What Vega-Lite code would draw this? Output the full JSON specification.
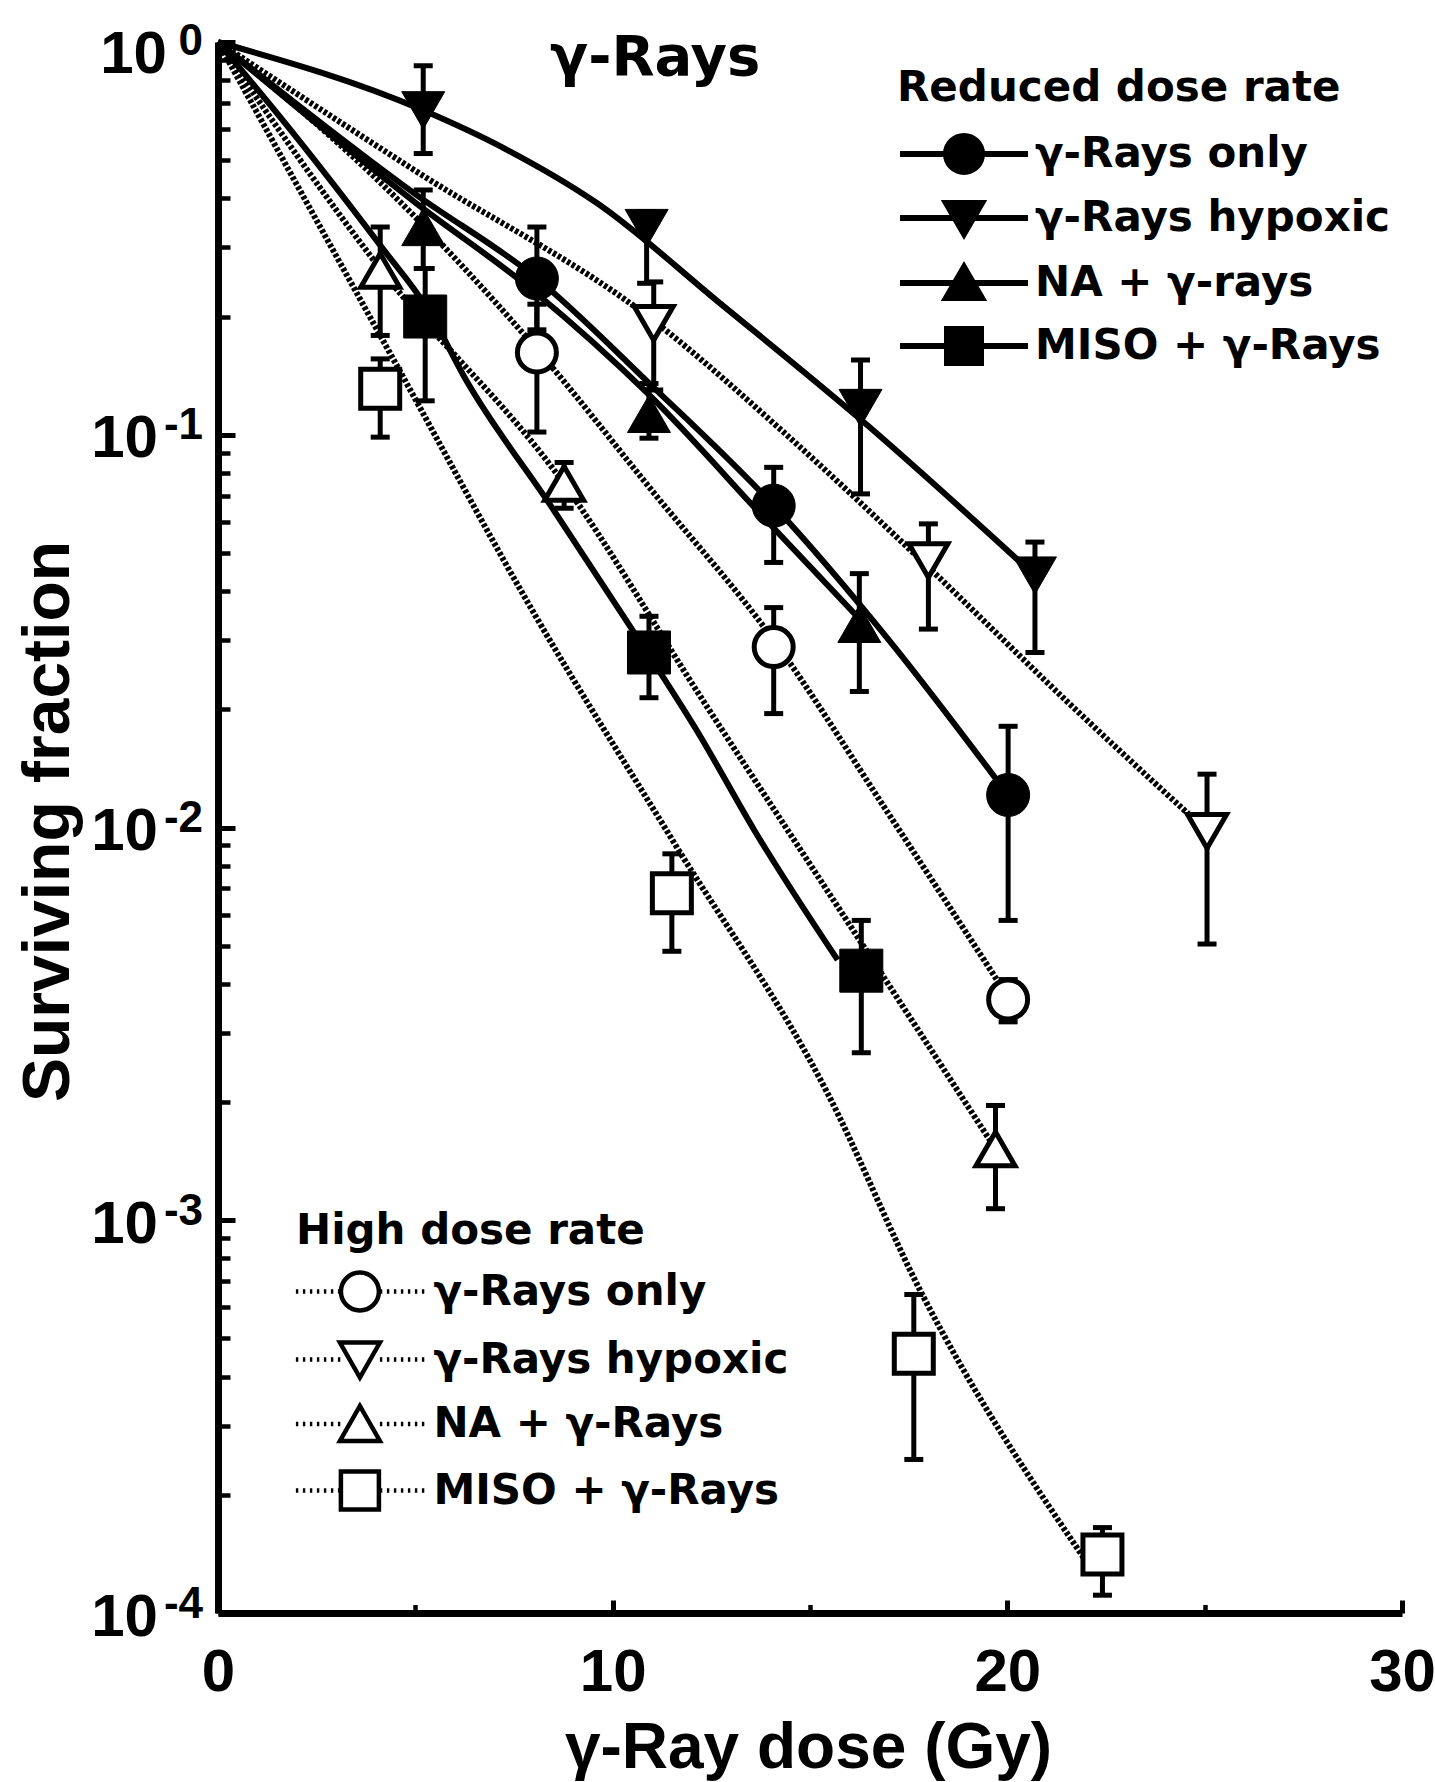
{
  "$schema": "https://vega.github.io/schema/vega-lite/v6.json",
  "width": 1184,
  "height": 1571,
  "autosize": "none",
  "padding": {"left": 218, "top": 42, "right": 33, "bottom": 169},
  "background": "white",
  "config": {
    "view": {"stroke": null},
    "axis": {"grid": false, "domainColor": "black", "tickColor": "black", "labelColor": "black", "titleColor": "black"},
    "legend": {"orient": "none", "padding": 0, "titleFont": "DejaVu Sans", "titleFontSize": 42, "titleFontWeight": "bold", "titleColor": "black", "titleLimit": 1000, "labelFont": "DejaVu Sans", "labelFontSize": 42, "labelFontWeight": "bold", "labelColor": "black", "labelLimit": 1000, "symbolSize": 1600}
  },
  "title": {
    "text": "γ-Rays", "anchor": "start", "frame": "group", "orient": "top", "offset": 0,
    "dx": 332, "dy": 112, "baseline": "alphabetic",
    "font": "DejaVu Sans", "fontSize": 56, "fontWeight": "bold", "color": "black"
  },
  "datasets": {
    "curves": [
      {"rate": "Reduced", "treatment": "γ-Rays only", "dose": 0, "sf": 1},
      {"rate": "Reduced", "treatment": "γ-Rays only", "dose": 5, "sf": 0.41},
      {"rate": "Reduced", "treatment": "γ-Rays only", "dose": 8.08, "sf": 0.25},
      {"rate": "Reduced", "treatment": "γ-Rays only", "dose": 10.9, "sf": 0.136},
      {"rate": "Reduced", "treatment": "γ-Rays only", "dose": 14.08, "sf": 0.066},
      {"rate": "Reduced", "treatment": "γ-Rays only", "dose": 17, "sf": 0.03},
      {"rate": "Reduced", "treatment": "γ-Rays only", "dose": 20.02, "sf": 0.0121},
      {"rate": "Reduced", "treatment": "γ-Rays hypoxic", "dose": 0, "sf": 1},
      {"rate": "Reduced", "treatment": "γ-Rays hypoxic", "dose": 5.2, "sf": 0.67},
      {"rate": "Reduced", "treatment": "γ-Rays hypoxic", "dose": 7.3, "sf": 0.533},
      {"rate": "Reduced", "treatment": "γ-Rays hypoxic", "dose": 9.6, "sf": 0.389},
      {"rate": "Reduced", "treatment": "γ-Rays hypoxic", "dose": 12.7, "sf": 0.217},
      {"rate": "Reduced", "treatment": "γ-Rays hypoxic", "dose": 16.3, "sf": 0.109},
      {"rate": "Reduced", "treatment": "γ-Rays hypoxic", "dose": 20.7, "sf": 0.0438},
      {"rate": "Reduced", "treatment": "NA + γ-Rays", "dose": 0, "sf": 1},
      {"rate": "Reduced", "treatment": "NA + γ-Rays", "dose": 5, "sf": 0.39},
      {"rate": "Reduced", "treatment": "NA + γ-Rays", "dose": 8, "sf": 0.232},
      {"rate": "Reduced", "treatment": "NA + γ-Rays", "dose": 10.9, "sf": 0.127},
      {"rate": "Reduced", "treatment": "NA + γ-Rays", "dose": 14, "sf": 0.059},
      {"rate": "Reduced", "treatment": "NA + γ-Rays", "dose": 16.25, "sf": 0.034},
      {"rate": "Reduced", "treatment": "MISO + γ-Rays", "dose": 0, "sf": 1},
      {"rate": "Reduced", "treatment": "MISO + γ-Rays", "dose": 2, "sf": 0.57},
      {"rate": "Reduced", "treatment": "MISO + γ-Rays", "dose": 4.15, "sf": 0.3},
      {"rate": "Reduced", "treatment": "MISO + γ-Rays", "dose": 5.3, "sf": 0.21},
      {"rate": "Reduced", "treatment": "MISO + γ-Rays", "dose": 6.3, "sf": 0.137},
      {"rate": "Reduced", "treatment": "MISO + γ-Rays", "dose": 8.43, "sf": 0.066},
      {"rate": "Reduced", "treatment": "MISO + γ-Rays", "dose": 10.4, "sf": 0.033},
      {"rate": "Reduced", "treatment": "MISO + γ-Rays", "dose": 12.2, "sf": 0.0172},
      {"rate": "Reduced", "treatment": "MISO + γ-Rays", "dose": 13.6, "sf": 0.0098},
      {"rate": "Reduced", "treatment": "MISO + γ-Rays", "dose": 15.7, "sf": 0.0046},
      {"rate": "High", "treatment": "γ-Rays only", "dose": 0, "sf": 1},
      {"rate": "High", "treatment": "γ-Rays only", "dose": 4, "sf": 0.45},
      {"rate": "High", "treatment": "γ-Rays only", "dose": 8.08, "sf": 0.165},
      {"rate": "High", "treatment": "γ-Rays only", "dose": 11, "sf": 0.072},
      {"rate": "High", "treatment": "γ-Rays only", "dose": 14.08, "sf": 0.03},
      {"rate": "High", "treatment": "γ-Rays only", "dose": 17, "sf": 0.0108},
      {"rate": "High", "treatment": "γ-Rays only", "dose": 20.02, "sf": 0.0037},
      {"rate": "High", "treatment": "γ-Rays hypoxic", "dose": 0, "sf": 1},
      {"rate": "High", "treatment": "γ-Rays hypoxic", "dose": 5, "sf": 0.47},
      {"rate": "High", "treatment": "γ-Rays hypoxic", "dose": 11.04, "sf": 0.195},
      {"rate": "High", "treatment": "γ-Rays hypoxic", "dose": 14.5, "sf": 0.098},
      {"rate": "High", "treatment": "γ-Rays hypoxic", "dose": 18, "sf": 0.046},
      {"rate": "High", "treatment": "γ-Rays hypoxic", "dose": 21.5, "sf": 0.021},
      {"rate": "High", "treatment": "γ-Rays hypoxic", "dose": 25.06, "sf": 0.0098},
      {"rate": "High", "treatment": "NA + γ-Rays", "dose": 0, "sf": 1},
      {"rate": "High", "treatment": "NA + γ-Rays", "dose": 4.11, "sf": 0.265},
      {"rate": "High", "treatment": "NA + γ-Rays", "dose": 8.77, "sf": 0.075},
      {"rate": "High", "treatment": "NA + γ-Rays", "dose": 12.23, "sf": 0.0215},
      {"rate": "High", "treatment": "NA + γ-Rays", "dose": 16.03, "sf": 0.0056},
      {"rate": "High", "treatment": "NA + γ-Rays", "dose": 19.7, "sf": 0.00152},
      {"rate": "High", "treatment": "MISO + γ-Rays", "dose": 0, "sf": 1},
      {"rate": "High", "treatment": "MISO + γ-Rays", "dose": 4.5, "sf": 0.152},
      {"rate": "High", "treatment": "MISO + γ-Rays", "dose": 8, "sf": 0.0352},
      {"rate": "High", "treatment": "MISO + γ-Rays", "dose": 11.54, "sf": 0.0092},
      {"rate": "High", "treatment": "MISO + γ-Rays", "dose": 15.45, "sf": 0.0021},
      {"rate": "High", "treatment": "MISO + γ-Rays", "dose": 17.8, "sf": 0.00066},
      {"rate": "High", "treatment": "MISO + γ-Rays", "dose": 22.05, "sf": 0.000133}
    ],
    "points": [
      {"rate": "Reduced", "treatment": "γ-Rays only", "dose": 8.08, "sf": 0.25, "lo": 0.185, "hi": 0.338},
      {"rate": "Reduced", "treatment": "γ-Rays only", "dose": 14.08, "sf": 0.066, "lo": 0.0473, "hi": 0.0826},
      {"rate": "Reduced", "treatment": "γ-Rays only", "dose": 20.02, "sf": 0.0121, "lo": 0.0058, "hi": 0.0181},
      {"rate": "Reduced", "treatment": "γ-Rays hypoxic", "dose": 5.2, "sf": 0.67, "lo": 0.52, "hi": 0.87},
      {"rate": "Reduced", "treatment": "γ-Rays hypoxic", "dose": 10.86, "sf": 0.336, "lo": 0.243, "hi": 0.37},
      {"rate": "Reduced", "treatment": "γ-Rays hypoxic", "dose": 16.28, "sf": 0.117, "lo": 0.0707, "hi": 0.155},
      {"rate": "Reduced", "treatment": "γ-Rays hypoxic", "dose": 20.7, "sf": 0.0438, "lo": 0.0279, "hi": 0.0533},
      {"rate": "Reduced", "treatment": "NA + γ-Rays", "dose": 5.2, "sf": 0.338, "lo": 0.265, "hi": 0.42},
      {"rate": "Reduced", "treatment": "NA + γ-Rays", "dose": 10.92, "sf": 0.113, "lo": 0.098, "hi": 0.135},
      {"rate": "Reduced", "treatment": "NA + γ-Rays", "dose": 16.25, "sf": 0.033, "lo": 0.0222, "hi": 0.0443},
      {"rate": "Reduced", "treatment": "MISO + γ-Rays", "dose": 5.25, "sf": 0.2, "lo": 0.122, "hi": 0.265},
      {"rate": "Reduced", "treatment": "MISO + γ-Rays", "dose": 10.92, "sf": 0.0279, "lo": 0.0214, "hi": 0.0345},
      {"rate": "Reduced", "treatment": "MISO + γ-Rays", "dose": 16.3, "sf": 0.00432, "lo": 0.00267, "hi": 0.0058},
      {"rate": "High", "treatment": "γ-Rays only", "dose": 8.08, "sf": 0.162, "lo": 0.1016, "hi": 0.215},
      {"rate": "High", "treatment": "γ-Rays only", "dose": 14.08, "sf": 0.0288, "lo": 0.0195, "hi": 0.0363},
      {"rate": "High", "treatment": "γ-Rays only", "dose": 20.02, "sf": 0.00365, "lo": 0.0032, "hi": 0.0041},
      {"rate": "High", "treatment": "γ-Rays hypoxic", "dose": 11.04, "sf": 0.192, "lo": 0.13, "hi": 0.245},
      {"rate": "High", "treatment": "γ-Rays hypoxic", "dose": 18.0, "sf": 0.0478, "lo": 0.032, "hi": 0.0593},
      {"rate": "High", "treatment": "γ-Rays hypoxic", "dose": 25.06, "sf": 0.00977, "lo": 0.00505, "hi": 0.01367},
      {"rate": "High", "treatment": "NA + γ-Rays", "dose": 4.11, "sf": 0.262, "lo": 0.179, "hi": 0.338},
      {"rate": "High", "treatment": "NA + γ-Rays", "dose": 8.77, "sf": 0.0752, "lo": 0.065, "hi": 0.085},
      {"rate": "High", "treatment": "NA + γ-Rays", "dose": 19.7, "sf": 0.00152, "lo": 0.00107, "hi": 0.00196},
      {"rate": "High", "treatment": "MISO + γ-Rays", "dose": 4.11, "sf": 0.131, "lo": 0.0986, "hi": 0.156},
      {"rate": "High", "treatment": "MISO + γ-Rays", "dose": 11.5, "sf": 0.0068, "lo": 0.00484, "hi": 0.00857},
      {"rate": "High", "treatment": "MISO + γ-Rays", "dose": 17.63, "sf": 0.000457, "lo": 0.000246, "hi": 0.000647},
      {"rate": "High", "treatment": "MISO + γ-Rays", "dose": 22.41, "sf": 0.000141, "lo": 0.000111, "hi": 0.000165}
    ]
  },
  "layer": [
    {
      "data": {"name": "curves"},
      "transform": [{"filter": "datum.rate === 'Reduced'"}],
      "mark": {"type": "line", "color": "black", "strokeWidth": 6, "interpolate": "monotone"},
      "encoding": {
        "x": {
          "field": "dose", "type": "quantitative",
          "scale": {"domain": [0, 30], "nice": false, "zero": false},
          "axis": {
            "orient": "bottom", "values": [0, 10, 20, 30], "tickSize": -13, "tickWidth": 5,
            "domain": true, "domainWidth": 7,
            "labelFont": "Liberation Sans", "labelFontSize": 60, "labelFontWeight": "bold",
            "labelPadding": 43.6, "labelFlush": false, "labelOverlap": false,
            "title": "γ-Ray dose (Gy)", "titleFont": "Liberation Sans", "titleFontSize": 64, "titleFontWeight": "bold",
            "titleX": 590, "titleY": 154, "titleAlign": "center", "titleBaseline": "alphabetic"
          }
        },
        "y": {
          "field": "sf", "type": "quantitative",
          "scale": {"type": "log", "domain": [0.0001, 1], "nice": false},
          "axis": {
            "orient": "left", "values": [1, 0.1, 0.01, 0.001, 0.0001], "tickSize": -17, "tickWidth": 5,
            "domain": true, "domainWidth": 7,
            "labelExpr": "'10'", "labelFont": "Liberation Sans", "labelFontSize": 60, "labelFontWeight": "bold",
            "labelAlign": "right", "labelBaseline": "middle", "labelOverlap": false,
            "labelPadding": {"condition": {"test": "datum.value >= 0.5", "value": 68.5}, "value": 77.5},
            "labelOffset": {"condition": {"test": "datum.value >= 0.5", "value": 12}, "value": 4},
            "title": "Surviving fraction", "titleFont": "Liberation Sans", "titleFontSize": 66, "titleFontWeight": "bold",
            "titleAngle": 270, "titleX": -149.5, "titleY": 779, "titleAlign": "center", "titleBaseline": "alphabetic"
          }
        },
        "detail": {"field": "treatment"}
      }
    },
    {
      "data": {"name": "curves"},
      "transform": [{"filter": "datum.rate === 'High'"}],
      "mark": {"type": "line", "color": "black", "strokeWidth": 6, "strokeDash": [3.5, 2], "interpolate": "monotone"},
      "encoding": {
        "x": {
          "field": "dose", "type": "quantitative",
          "axis": {"orient": "bottom", "values": [5, 15, 25], "tickSize": -8.5, "tickWidth": 4.5, "labels": false, "domain": false, "title": null}
        },
        "y": {
          "field": "sf", "type": "quantitative",
          "axis": {
            "orient": "left", "tickSize": -12, "tickWidth": 4.5, "labels": false, "domain": false, "title": null,
            "values": [0.9, 0.8, 0.7, 0.6, 0.5, 0.4, 0.3, 0.2, 0.09, 0.08, 0.07, 0.06, 0.05, 0.04, 0.03, 0.02, 0.009, 0.008, 0.007, 0.006, 0.005, 0.004, 0.003, 0.002, 0.0009, 0.0008, 0.0007, 0.0006, 0.0005, 0.0004, 0.0003, 0.0002]
          }
        },
        "detail": {"field": "treatment"}
      }
    },
    {
      "data": {"name": "points"},
      "mark": {"type": "rule", "color": "black", "strokeWidth": 5},
      "encoding": {
        "x": {"field": "dose", "type": "quantitative", "axis": null},
        "y": {
          "field": "lo", "type": "quantitative",
          "axis": {
            "orient": "left", "values": [1, 0.1, 0.01, 0.001, 0.0001], "ticks": false, "domain": false, "title": null,
            "labelExpr": "datum.value > 0.5 ? '0' : datum.value > 0.05 ? '-1' : datum.value > 0.005 ? '-2' : datum.value > 0.0005 ? '-3' : '-4'",
            "labelFont": "Liberation Sans", "labelFontSize": 44, "labelFontWeight": "bold",
            "labelAlign": "right", "labelBaseline": "middle", "labelOverlap": false, "labelPadding": 15.5,
            "labelOffset": {"condition": {"test": "datum.value >= 0.5", "value": -1}, "value": -9}
          }
        },
        "y2": {"field": "hi"}
      }
    },
    {
      "data": {"name": "points"},
      "mark": {"type": "tick", "orient": "horizontal", "color": "black", "size": 19, "thickness": 5, "opacity": 1},
      "encoding": {
        "x": {"field": "dose", "type": "quantitative", "axis": null},
        "y": {"field": "lo", "type": "quantitative", "axis": null}
      }
    },
    {
      "data": {"name": "points"},
      "mark": {"type": "tick", "orient": "horizontal", "color": "black", "size": 19, "thickness": 5, "opacity": 1},
      "encoding": {
        "x": {"field": "dose", "type": "quantitative", "axis": null},
        "y": {"field": "hi", "type": "quantitative", "axis": null}
      }
    },
    {
      "data": {"name": "points"},
      "transform": [{"filter": "datum.rate === 'Reduced' && datum.treatment === 'γ-Rays only'"}],
      "mark": {"type": "point", "filled": true, "stroke": "black", "strokeWidth": 6, "size": 1600, "opacity": 0, "shape": "M-3.2,0H3.2M0.9,0A0.9,0.9 0 1,1 -0.9,0A0.9,0.9 0 1,1 0.9,0Z"},
      "encoding": {
        "x": {"field": "dose", "type": "quantitative", "axis": null},
        "y": {"field": "sf", "type": "quantitative", "axis": null},
        "fill": {
          "field": "treatment", "type": "nominal", "scale": {"domain": ["γ-Rays only"], "range": ["black"]},
          "legend": {"title": "Reduced dose rate", "titlePadding": 20.5, "legendX": 679, "legendY": 26.4, "symbolOffset": 44, "labelOffset": 48, "symbolStrokeWidth": 6, "symbolStrokeColor": "black", "symbolType": "M-3.2,0H3.2M0.9,0A0.9,0.9 0 1,1 -0.9,0A0.9,0.9 0 1,1 0.9,0Z"}
        }
      }
    },
    {
      "data": {"name": "points"},
      "transform": [{"filter": "datum.rate === 'Reduced' && datum.treatment === 'γ-Rays hypoxic'"}],
      "mark": {"type": "point", "filled": true, "stroke": "black", "strokeWidth": 6, "size": 1600, "opacity": 0, "shape": "M-3.2,0H3.2M-0.9,-0.75H0.9L0,0.8Z"},
      "encoding": {
        "x": {"field": "dose", "type": "quantitative", "axis": null},
        "y": {"field": "sf", "type": "quantitative", "axis": null},
        "fill": {
          "field": "treatment", "type": "nominal", "scale": {"domain": ["γ-Rays hypoxic"], "range": ["black"]},
          "legend": {"title": null, "legendX": 679, "legendY": 153, "symbolOffset": 44, "labelOffset": 48, "symbolStrokeWidth": 6, "symbolStrokeColor": "black", "symbolType": "M-3.2,0H3.2M-0.9,-0.75H0.9L0,0.8Z"}
        }
      }
    },
    {
      "data": {"name": "points"},
      "transform": [{"filter": "datum.rate === 'Reduced' && datum.treatment === 'NA + γ-Rays'"}],
      "mark": {"type": "point", "filled": true, "stroke": "black", "strokeWidth": 6, "size": 1600, "opacity": 0, "shape": "M-3.2,0H3.2M-0.9,0.75H0.9L0,-0.8Z"},
      "encoding": {
        "x": {"field": "dose", "type": "quantitative", "axis": null},
        "y": {"field": "sf", "type": "quantitative", "axis": null},
        "fill": {
          "field": "treatment", "type": "nominal", "scale": {"domain": ["NA + γ-Rays"], "range": ["black"]},
          "legend": {"title": null, "legendX": 679, "legendY": 218, "symbolOffset": 44, "labelOffset": 48, "symbolStrokeWidth": 6, "symbolStrokeColor": "black", "labelExpr": "'NA + γ-rays'", "symbolType": "M-3.2,0H3.2M-0.9,0.75H0.9L0,-0.8Z"}
        }
      }
    },
    {
      "data": {"name": "points"},
      "transform": [{"filter": "datum.rate === 'Reduced' && datum.treatment === 'MISO + γ-Rays'"}],
      "mark": {"type": "point", "filled": true, "stroke": "black", "strokeWidth": 6, "size": 1600, "opacity": 0, "shape": "M-3.2,0H3.2M-0.85,-0.85H0.85V0.85H-0.85Z"},
      "encoding": {
        "x": {"field": "dose", "type": "quantitative", "axis": null},
        "y": {"field": "sf", "type": "quantitative", "axis": null},
        "fill": {
          "field": "treatment", "type": "nominal", "scale": {"domain": ["MISO + γ-Rays"], "range": ["black"]},
          "legend": {"title": null, "legendX": 679, "legendY": 281, "symbolOffset": 44, "labelOffset": 48, "symbolStrokeWidth": 6, "symbolStrokeColor": "black", "symbolType": "M-3.2,0H3.2M-0.85,-0.85H0.85V0.85H-0.85Z"}
        }
      }
    },
    {
      "data": {"name": "points"},
      "transform": [{"filter": "datum.rate === 'High' && datum.treatment === 'γ-Rays only'"}],
      "mark": {"type": "point", "filled": true, "stroke": "black", "strokeWidth": 4.5, "size": 1600, "opacity": 0, "shape": "M-3.2,0h0.12M-2.85,0h0.12M-2.5,0h0.12M-2.15,0h0.12M-1.8,0h0.12M-1.45,0h0.12M-1.1,0h0.12M1,0h0.12M1.35,0h0.12M1.7,0h0.12M2.05,0h0.12M2.4,0h0.12M2.75,0h0.12M3.1,0h0.12M0.95,0A0.95,0.95 0 1,1 -0.95,0A0.95,0.95 0 1,1 0.95,0Z"},
      "encoding": {
        "x": {"field": "dose", "type": "quantitative", "axis": null},
        "y": {"field": "sf", "type": "quantitative", "axis": null},
        "fill": {
          "field": "treatment", "type": "nominal", "scale": {"domain": ["γ-Rays only"], "range": ["white"]},
          "legend": {"title": "High dose rate", "titlePadding": 16.5, "legendX": 78, "legendY": 1168.5, "symbolOffset": 41.4, "labelOffset": 51, "symbolStrokeWidth": 4.5, "symbolStrokeColor": "black", "symbolType": "M-3.2,0h0.12M-2.85,0h0.12M-2.5,0h0.12M-2.15,0h0.12M-1.8,0h0.12M-1.45,0h0.12M-1.1,0h0.12M1,0h0.12M1.35,0h0.12M1.7,0h0.12M2.05,0h0.12M2.4,0h0.12M2.75,0h0.12M3.1,0h0.12M0.95,0A0.95,0.95 0 1,1 -0.95,0A0.95,0.95 0 1,1 0.95,0Z"}
        }
      }
    },
    {
      "data": {"name": "points"},
      "transform": [{"filter": "datum.rate === 'High' && datum.treatment === 'γ-Rays hypoxic'"}],
      "mark": {"type": "point", "filled": true, "stroke": "black", "strokeWidth": 4.5, "size": 1600, "opacity": 0, "shape": "M-3.2,0h0.12M-2.85,0h0.12M-2.5,0h0.12M-2.15,0h0.12M-1.8,0h0.12M-1.45,0h0.12M-1.1,0h0.12M1,0h0.12M1.35,0h0.12M1.7,0h0.12M2.05,0h0.12M2.4,0h0.12M2.75,0h0.12M3.1,0h0.12M-1,-0.85H1L0,0.9Z"},
      "encoding": {
        "x": {"field": "dose", "type": "quantitative", "axis": null},
        "y": {"field": "sf", "type": "quantitative", "axis": null},
        "fill": {
          "field": "treatment", "type": "nominal", "scale": {"domain": ["γ-Rays hypoxic"], "range": ["white"]},
          "legend": {"title": null, "legendX": 78, "legendY": 1295, "symbolOffset": 41.4, "labelOffset": 51, "symbolStrokeWidth": 4.5, "symbolStrokeColor": "black", "symbolType": "M-3.2,0h0.12M-2.85,0h0.12M-2.5,0h0.12M-2.15,0h0.12M-1.8,0h0.12M-1.45,0h0.12M-1.1,0h0.12M1,0h0.12M1.35,0h0.12M1.7,0h0.12M2.05,0h0.12M2.4,0h0.12M2.75,0h0.12M3.1,0h0.12M-1,-0.85H1L0,0.9Z"}
        }
      }
    },
    {
      "data": {"name": "points"},
      "transform": [{"filter": "datum.rate === 'High' && datum.treatment === 'NA + γ-Rays'"}],
      "mark": {"type": "point", "filled": true, "stroke": "black", "strokeWidth": 4.5, "size": 1600, "opacity": 0, "shape": "M-3.2,0h0.12M-2.85,0h0.12M-2.5,0h0.12M-2.15,0h0.12M-1.8,0h0.12M-1.45,0h0.12M-1.1,0h0.12M1,0h0.12M1.35,0h0.12M1.7,0h0.12M2.05,0h0.12M2.4,0h0.12M2.75,0h0.12M3.1,0h0.12M-1,0.85H1L0,-0.9Z"},
      "encoding": {
        "x": {"field": "dose", "type": "quantitative", "axis": null},
        "y": {"field": "sf", "type": "quantitative", "axis": null},
        "fill": {
          "field": "treatment", "type": "nominal", "scale": {"domain": ["NA + γ-Rays"], "range": ["white"]},
          "legend": {"title": null, "legendX": 78, "legendY": 1359.5, "symbolOffset": 41.4, "labelOffset": 51, "symbolStrokeWidth": 4.5, "symbolStrokeColor": "black", "symbolType": "M-3.2,0h0.12M-2.85,0h0.12M-2.5,0h0.12M-2.15,0h0.12M-1.8,0h0.12M-1.45,0h0.12M-1.1,0h0.12M1,0h0.12M1.35,0h0.12M1.7,0h0.12M2.05,0h0.12M2.4,0h0.12M2.75,0h0.12M3.1,0h0.12M-1,0.85H1L0,-0.9Z"}
        }
      }
    },
    {
      "data": {"name": "points"},
      "transform": [{"filter": "datum.rate === 'High' && datum.treatment === 'MISO + γ-Rays'"}],
      "mark": {"type": "point", "filled": true, "stroke": "black", "strokeWidth": 4.5, "size": 1600, "opacity": 0, "shape": "M-3.2,0h0.12M-2.85,0h0.12M-2.5,0h0.12M-2.15,0h0.12M-1.8,0h0.12M-1.45,0h0.12M-1.1,0h0.12M1,0h0.12M1.35,0h0.12M1.7,0h0.12M2.05,0h0.12M2.4,0h0.12M2.75,0h0.12M3.1,0h0.12M-0.95,-0.95H0.95V0.95H-0.95Z"},
      "encoding": {
        "x": {"field": "dose", "type": "quantitative", "axis": null},
        "y": {"field": "sf", "type": "quantitative", "axis": null},
        "fill": {
          "field": "treatment", "type": "nominal", "scale": {"domain": ["MISO + γ-Rays"], "range": ["white"]},
          "legend": {"title": null, "legendX": 78, "legendY": 1426, "symbolOffset": 41.4, "labelOffset": 51, "symbolStrokeWidth": 4.5, "symbolStrokeColor": "black", "symbolType": "M-3.2,0h0.12M-2.85,0h0.12M-2.5,0h0.12M-2.15,0h0.12M-1.8,0h0.12M-1.45,0h0.12M-1.1,0h0.12M1,0h0.12M1.35,0h0.12M1.7,0h0.12M2.05,0h0.12M2.4,0h0.12M2.75,0h0.12M3.1,0h0.12M-0.95,-0.95H0.95V0.95H-0.95Z"}
        }
      }
    },
    {
      "data": {"name": "points"},
      "transform": [{"filter": "datum.rate === 'Reduced'"}],
      "mark": {"type": "point", "filled": true, "fill": "black", "stroke": "black", "strokeWidth": 1, "size": 1850, "opacity": 1},
      "encoding": {
        "x": {"field": "dose", "type": "quantitative", "axis": null},
        "y": {"field": "sf", "type": "quantitative", "axis": null},
        "shape": {
          "field": "treatment", "type": "nominal",
          "scale": {"domain": ["γ-Rays only", "γ-Rays hypoxic", "NA + γ-Rays", "MISO + γ-Rays"], "range": ["circle", "triangle-down", "triangle-up", "square"]},
          "legend": null
        }
      }
    },
    {
      "data": {"name": "points"},
      "transform": [{"filter": "datum.rate === 'High'"}],
      "mark": {"type": "point", "filled": true, "fill": "white", "stroke": "black", "strokeWidth": 5, "size": 1520, "opacity": 1},
      "encoding": {
        "x": {"field": "dose", "type": "quantitative", "axis": null},
        "y": {"field": "sf", "type": "quantitative", "axis": null},
        "shape": {
          "field": "treatment", "type": "nominal",
          "scale": {"domain": ["γ-Rays only", "γ-Rays hypoxic", "NA + γ-Rays", "MISO + γ-Rays"], "range": ["circle", "triangle-down", "triangle-up", "square"]},
          "legend": null
        }
      }
    }
  ],
  "resolve": {
    "scale": {"fill": "independent"},
    "axis": {"x": "independent", "y": "independent"}
  }
}
